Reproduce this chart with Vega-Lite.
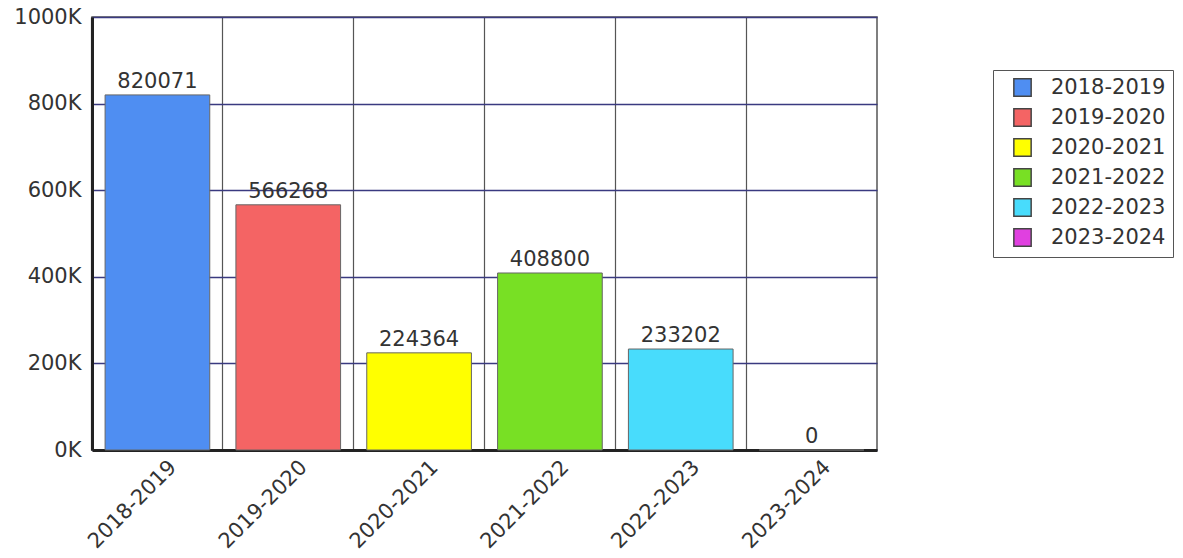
{
  "$schema": "https://vega.github.io/schema/vega-lite/v6.json",
  "width": 785,
  "height": 433,
  "autosize": "none",
  "padding": {"left": 92, "top": 17, "right": 306, "bottom": 108},
  "background": "white",
  "config": {
    "font": "DejaVu Sans",
    "view": {"stroke": "#555555", "strokeWidth": 1.5}
  },
  "data": {
    "values": [
      {"year": "2018-2019", "value": 820071},
      {"year": "2019-2020", "value": 566268},
      {"year": "2020-2021", "value": 224364},
      {"year": "2021-2022", "value": 408800},
      {"year": "2022-2023", "value": 233202},
      {"year": "2023-2024", "value": 0}
    ]
  },
  "encoding": {
    "x": {
      "field": "year",
      "type": "nominal",
      "sort": null,
      "scale": {"paddingInner": 0.2, "paddingOuter": 0.1},
      "axis": {
        "title": null,
        "labelAngle": -45,
        "labelFontSize": 21,
        "labelColor": "#333333",
        "labelPadding": 6,
        "labelOffset": 8,
        "ticks": false,
        "grid": true,
        "bandPosition": -0.125,
        "gridColor": "#555555",
        "gridWidth": 1.2,
        "domainColor": "#222222",
        "domainWidth": 3
      }
    },
    "y": {
      "field": "value",
      "type": "quantitative",
      "scale": {"domain": [0, 1000000], "nice": false},
      "axis": {
        "title": null,
        "values": [0, 200000, 400000, 600000, 800000, 1000000],
        "labelExpr": "datum.value / 1000 + 'K'",
        "labelFontSize": 21,
        "labelColor": "#333333",
        "labelPadding": 11,
        "ticks": false,
        "grid": true,
        "gridColor": "#3a3a80",
        "gridWidth": 1.5,
        "domainColor": "#222222",
        "domainWidth": 3
      }
    }
  },
  "layer": [
    {
      "mark": {"type": "bar", "stroke": "#666666", "strokeWidth": 1},
      "encoding": {
        "color": {
          "field": "year",
          "type": "nominal",
          "sort": null,
          "scale": {
            "range": ["#4f8ef2", "#f46464", "#ffff00", "#78e024", "#48dcfc", "#e040e0"]
          },
          "legend": {
            "title": null,
            "orient": "none",
            "legendX": 901,
            "legendY": 53,
            "symbolType": "square",
            "symbolSize": 300,
            "symbolStrokeColor": "#444444",
            "symbolStrokeWidth": 1.5,
            "symbolOffset": 12,
            "labelFontSize": 21,
            "labelColor": "#333333",
            "labelOffset": 18,
            "rowPadding": 5,
            "strokeColor": "#555555",
            "fillColor": "white",
            "padding": 7,
            "offset": 0
          }
        }
      }
    },
    {
      "mark": {"type": "text", "dy": -13, "fontSize": 21, "color": "#333333"},
      "encoding": {
        "text": {"field": "value", "type": "quantitative", "format": "d"}
      }
    }
  ]
}
